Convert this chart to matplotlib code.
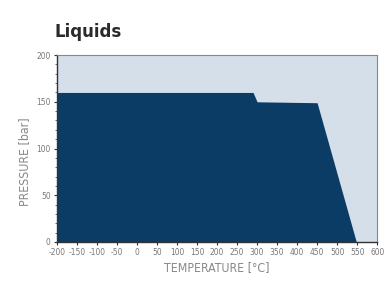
import matplotlib.pyplot as plt
import matplotlib.ticker as ticker

# liquid operating envelope
temperature = [-200, 290, 300, 450, 548]
pressure = [160, 160, 150, 149, 0]
xticks = list(range(-200, 601, 50))
yticks = [0, 50, 100, 150, 200]

plt.rcParams['font.family'] = ['DejaVu Sans']
plt.rcParams['font.stretch'] = 'condensed'
plt.rcParams['axes.unicode_minus'] = False

fig = plt.figure(figsize=(3.9, 2.81), dpi=100)
ax = fig.add_axes([0.146, 0.139, 0.821, 0.665])
ax.set_facecolor('#d5dfea')
ax.fill_between(temperature, pressure, 0, color='#0a3c66', lw=0)

ax.set_xlim(-200, 600)
ax.set_ylim(0, 200)
ax.set_xticks(xticks)
ax.set_yticks(yticks)
ax.yaxis.set_minor_locator(ticker.MultipleLocator(10))
ax.tick_params(axis='both', which='major', labelsize=6, colors='#333333',
               labelcolor='#777777', length=2.5, width=0.8, pad=2)
ax.tick_params(axis='y', which='minor', length=1.5, width=0.5, colors='#333333')
for lbl in ax.get_xticklabels() + ax.get_yticklabels():
    lbl.set_fontstretch('condensed')

for side in ['top', 'right']:
    ax.spines[side].set_color('#888888')
    ax.spines[side].set_linewidth(0.8)
for side in ['left', 'bottom']:
    ax.spines[side].set_color('#333333')
    ax.spines[side].set_linewidth(1.0)

ax.set_xlabel('TEMPERATURE [°C]', fontsize=8.8, color='#888888', labelpad=3)
ax.set_ylabel('PRESSURE [bar]', fontsize=8.8, color='#888888')
ax.yaxis.set_label_coords(-0.08, 0.43)

fig.text(0.141, 0.885, 'Liquids', fontsize=12, fontweight='bold', color='#2a2a2a',
         va='center', fontstretch='normal')

fig.savefig('out.png', dpi=100)
